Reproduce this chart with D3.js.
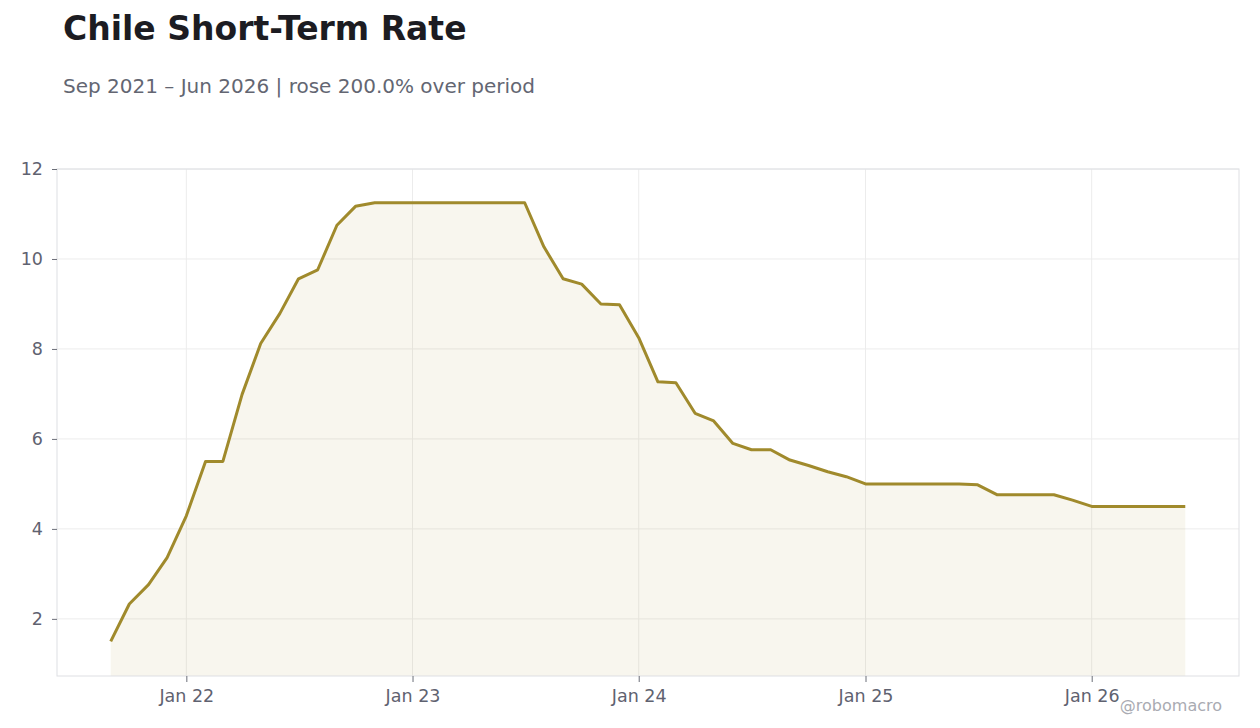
<!DOCTYPE html>
<html>
<head>
<meta charset="utf-8">
<script src="https://cdn.jsdelivr.net/npm/d3@7"></script>
<style>
  body { margin: 0; background: #fff; font-family: "DejaVu Sans", sans-serif; }
  svg { display: block; }
</style>
</head>
<body>
<svg id="chart" width="1260" height="728"></svg>
<script>
    // monthly observations, Sep 2021 .. Jun 2026
    const startMonth = "2021-09";
    const rateValues = [
        1.50, 2.33, 2.76, 3.36,
        4.29, 5.50, 5.50, 6.99, 8.12, 8.79, 9.56, 9.76, 10.75, 11.17, 11.25, 11.25,
        11.25, 11.25, 11.25, 11.25, 11.25, 11.25, 11.25, 10.27, 9.56, 9.44, 9.00, 8.98,
        8.25, 7.27, 7.25, 6.57, 6.40, 5.90, 5.76, 5.76, 5.53, 5.41, 5.27, 5.16,
        5.00, 5.00, 5.00, 5.00, 5.00, 5.00, 4.98, 4.76, 4.76, 4.76, 4.76, 4.64,
        4.50, 4.50, 4.50, 4.50, 4.50, 4.50
    ];
    const yTicks = [2, 4, 6, 8, 10, 12];
    const titleText = "Chile Short-Term Rate";
    const subtitleText = "Sep 2021 – Jun 2026 | rose 200.0% over period";
    const creditText = "@robomacro";

    const parseMonth = d3.timeParse("%Y-%m");
    const first = parseMonth(startMonth);
    const data = rateValues.map((v, i) => ({ date: d3.timeMonth.offset(first, i), value: v }));

    const svg = d3.select("#chart");
    const margin = { top: 169, right: 21, bottom: 52, left: 57 };
    const W = 1260, H = 728;

    const ext = d3.extent(data, d => d.date);
    const pad = (ext[1] - ext[0]) * 0.05;
    const x = d3.scaleTime()
        .domain([new Date(+ext[0] - pad), new Date(+ext[1] + pad)])
        .range([margin.left, W - margin.right]);
    const y = d3.scaleLinear()
        .domain([0.73, 12])
        .range([H - margin.bottom, margin.top]);

    const x0 = margin.left, x1 = W - margin.right;
    const y0 = H - margin.bottom, y1 = margin.top;

    // grid
    const xTicks = x.ticks(d3.timeYear.every(1));
    svg.append("g").selectAll("line").data(xTicks).join("line")
        .attr("x1", d => x(d)).attr("x2", d => x(d))
        .attr("y1", y1).attr("y2", y0)
        .attr("stroke", "#ececec").attr("stroke-width", 1);
    svg.append("g").selectAll("line").data(yTicks).join("line")
        .attr("x1", x0).attr("x2", x1)
        .attr("y1", d => y(d)).attr("y2", d => y(d))
        .attr("stroke", "#ececec").attr("stroke-width", 1);

    // area + line
    svg.append("path")
        .datum(data)
        .attr("fill", "#a08a2c")
        .attr("fill-opacity", 0.08)
        .attr("d", d3.area()
            .x(d => x(d.date))
            .y0(y0)
            .y1(d => y(d.value)));

    svg.append("path")
        .datum(data)
        .attr("fill", "none")
        .attr("stroke", "#a08a2c")
        .attr("stroke-width", 3)
        .attr("stroke-linejoin", "round")
        .attr("d", d3.line()
            .x(d => x(d.date))
            .y(d => y(d.value)));

    // frame
    svg.append("rect")
        .attr("x", x0).attr("y", y1)
        .attr("width", x1 - x0).attr("height", y0 - y1)
        .attr("fill", "none")
        .attr("stroke", "#dedfe3").attr("stroke-width", 1);

    // axes
    const gx = svg.append("g")
        .attr("transform", "translate(0," + y0 + ")")
        .call(d3.axisBottom(x).tickValues(xTicks).tickFormat(d3.timeFormat("%b %y")).tickSize(6).tickPadding(8));
    const gy = svg.append("g")
        .attr("transform", "translate(" + x0 + ",0)")
        .call(d3.axisLeft(y).tickValues(yTicks).tickSize(5).tickPadding(9));
    [gx, gy].forEach(g => {
        g.select(".domain").remove();
        g.selectAll(".tick line").attr("stroke", "#6b6e78");
        g.selectAll(".tick text")
            .attr("fill", "#5f6270")
            .style("font-family", "DejaVu Sans, sans-serif")
            .style("font-size", "17.5px");
    });

    // titles
    svg.append("text")
        .attr("x", 63).attr("y", 40)
        .attr("fill", "#1c1c22")
        .style("font-size", "33px").style("font-weight", "bold")
        .text(titleText);
    svg.append("text")
        .attr("x", 63).attr("y", 93)
        .attr("fill", "#636672")
        .style("font-size", "20px")
        .text(subtitleText);
    svg.append("text")
        .attr("x", 1222).attr("y", 711)
        .attr("text-anchor", "end")
        .attr("fill", "#a9abb2")
        .style("font-size", "16px")
        .text(creditText);
</script>
</body>
</html>
